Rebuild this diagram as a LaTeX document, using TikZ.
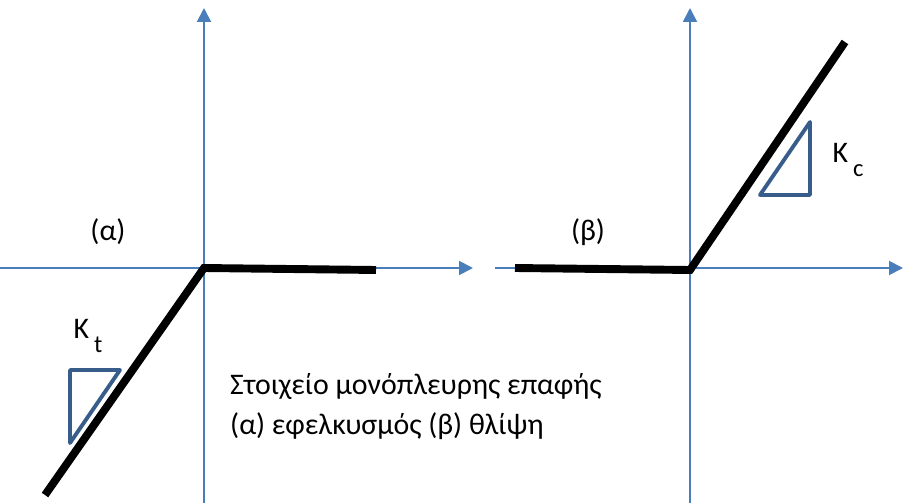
\documentclass[tikz,border=0pt]{standalone}
\usepackage{fontspec}
\setmainfont{Carlito}
\usetikzlibrary{positioning,arrows.meta,calc}
\usepackage{xcolor}
\definecolor{axisblue}{RGB}{74,126,187}
\definecolor{triblue}{RGB}{56,93,138}
\newcommand{\lowsub}[1]{\,\raisebox{-1ex}{\fontsize{14}{14}\selectfont #1}}
\begin{document}
\begin{tikzpicture}[x=0.02cm,y=-0.02cm,>={Triangle[length=0.28cm,width=0.28cm]},
  axis/.style={->,axisblue,line width=1.1pt},
  law/.style={black,line width=4.5pt},
  slope/.style={triblue,line width=2.2pt,line join=round,line cap=round},
  every node/.style={font=\fontsize{17}{22.7}\selectfont}]
\useasboundingbox (0,0) rectangle (903,503);
% (a) tension
\coordinate (oa) at (204,268);
\coordinate (xa0) at (0,268);
\coordinate (xa1) at (473,268);
\coordinate (ya0) at (204,503);
\coordinate (ya1) at (204,8);
\draw[axis] (xa0) -- (xa1);
\draw[axis] (ya0) -- (ya1);
\coordinate (ta) at (45,495);
\coordinate (ea) at (376,270);
\draw[law] (ta) -- (oa) -- (ea);
\coordinate (ka1) at (70,370);
\coordinate (ka2) at (120,370);
\coordinate (ka3) at (70,443);
\draw[slope] (ka1) -- (ka2) -- (ka3) -- cycle;
\node (kt) at (88,336) {K\lowsub{t}};
\node (la) at (108,232) {(α)};
% (b) compression
\coordinate (ob) at (690,270);
\coordinate (xb0) at (495,268);
\coordinate (xb1) at (903,268);
\coordinate (yb0) at (690,503);
\coordinate (yb1) at (690,8);
\draw[axis] (xb0) -- (xb1);
\draw[axis] (yb0) -- (yb1);
\coordinate (tb) at (515,268);
\coordinate (eb) at (845,42);
\draw[law] (tb) -- (ob) -- (eb);
\coordinate (kb1) at (810,122);
\coordinate (kb2) at (810,195);
\coordinate (kb3) at (760,195);
\draw[slope] (kb1) -- (kb2) -- (kb3) -- cycle;
\node (kc) at (848,160) {K\lowsub{c}};
\node (lb) at (588,232) {(β)};
% caption
\node[anchor=north west,align=left] (cap) at (224,367) {Στοιχείο μονόπλευρης επαφής\\(α) εφελκυσμός (β) θλίψη};
\end{tikzpicture}
\end{document}
